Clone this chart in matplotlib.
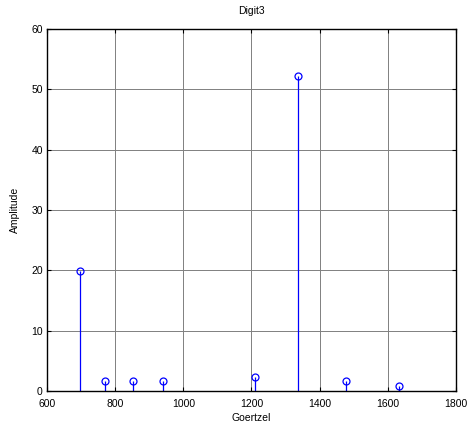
import matplotlib
matplotlib.use("Agg")
import matplotlib.pyplot as plt

# DTMF bin frequencies and Goertzel magnitudes
freqs = [697, 770, 852, 941, 1209, 1336, 1477, 1633]
amps = [19.9, 1.6, 1.6, 1.6, 2.3, 52.2, 1.6, 0.8]

xticks = [600, 800, 1000, 1200, 1400, 1600, 1800]
yticks = [0, 10, 20, 30, 40, 50, 60]

plt.rcParams["font.family"] = ["Liberation Sans", "DejaVu Sans"]
plt.rcParams["font.size"] = 7.5

fig = plt.figure(figsize=(4.7, 4.32), dpi=100)
ax = fig.add_axes([0.1, 0.095, 0.87, 0.838])

markerline, stemlines, baseline = ax.stem(freqs, amps, basefmt=" ")
plt.setp(stemlines, color="blue", linewidth=0.9)
plt.setp(markerline, marker="o", markersize=5, markerfacecolor="none",
         markeredgecolor="blue", markeredgewidth=0.9)

ax.set_xlim(600, 1800)
ax.set_ylim(0, 60)
ax.set_xticks(xticks)
ax.set_yticks(yticks)
ax.grid(True, color="#808080", linewidth=0.7, linestyle="-")
ax.set_axisbelow(True)
ax.tick_params(direction="in", top=True, right=True, length=3, width=0.8)
ax.tick_params(axis="x", pad=6)
ax.tick_params(axis="y", pad=3)
for s in ax.spines.values():
    s.set_linewidth(1.0)

ax.set_title("Digit3", fontsize=7.5, pad=11)
ax.set_xlabel("Goertzel", labelpad=3)
ax.set_ylabel("Amplitude", labelpad=8)

fig.savefig("out.png", dpi=100)
